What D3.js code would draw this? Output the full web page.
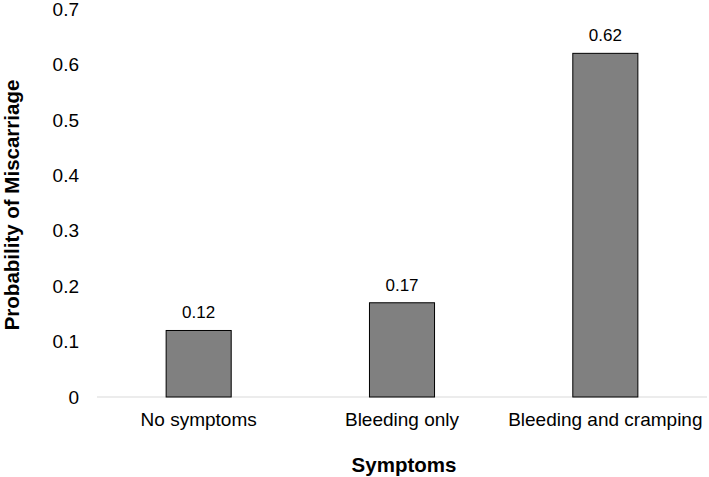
<!DOCTYPE html>
<html>
<head>
<meta charset="utf-8">
<script src="https://cdn.jsdelivr.net/npm/d3@7"></script>
<style>
  body { margin: 0; background: #fff; }
  text { font-family: "Liberation Sans", Arial, sans-serif; fill: #000; }
</style>
</head>
<body>
<div id="chart"></div>
<script>
var categories = ["No symptoms", "Bleeding only", "Bleeding and cramping"];
var values = [0.12, 0.17, 0.62];
var yTicks = [0, 0.1, 0.2, 0.3, 0.4, 0.5, 0.6, 0.7];

var width = 709, height = 477;
var margin = {left: 97, right: 2, top: 9, bottom: 80};
var innerW = width - margin.left - margin.right;
var innerH = height - margin.top - margin.bottom;

var svg = d3.select("#chart").append("svg")
  .attr("width", width)
  .attr("height", height);

var g = svg.append("g")
  .attr("transform", "translate(" + margin.left + "," + margin.top + ")");

var x = d3.scaleBand()
  .domain(categories)
  .range([0, innerW])
  .paddingInner(0.68)
  .paddingOuter(0.34);

var y = d3.scaleLinear()
  .domain([0, 0.7])
  .range([innerH, 0]);

// y tick labels (no axis line)
g.selectAll(".ytick")
  .data(yTicks)
  .enter().append("text")
  .attr("class", "ytick")
  .attr("x", -18)
  .attr("y", function(d) { return y(d); })
  .attr("dy", "0.35em")
  .attr("text-anchor", "end")
  .attr("font-size", "19px")
  .text(function(d) { return d === 0 ? "0" : d3.format(".1f")(d); });

// baseline
g.append("line")
  .attr("x1", 0).attr("x2", innerW)
  .attr("y1", y(0)).attr("y2", y(0))
  .attr("stroke", "#d9d9d9")
  .attr("stroke-width", 1);

// bars
g.selectAll("rect")
  .data(values)
  .enter().append("rect")
  .attr("x", function(d, i) { return x(categories[i]); })
  .attr("y", function(d) { return y(d); })
  .attr("width", x.bandwidth())
  .attr("height", function(d) { return y(0) - y(d); })
  .attr("fill", "#808080")
  .attr("stroke", "#000")
  .attr("stroke-width", 1);

// value labels
g.selectAll(".val")
  .data(values)
  .enter().append("text")
  .attr("class", "val")
  .attr("x", function(d, i) { return x(categories[i]) + x.bandwidth() / 2; })
  .attr("y", function(d) { return y(d) - 12; })
  .attr("text-anchor", "middle")
  .attr("font-size", "17px")
  .text(function(d) { return d; });

// category labels
g.selectAll(".cat")
  .data(categories)
  .enter().append("text")
  .attr("class", "cat")
  .attr("x", function(d) { return x(d) + x.bandwidth() / 2; })
  .attr("y", innerH + 29)
  .attr("text-anchor", "middle")
  .attr("font-size", "19px")
  .text(function(d) { return d; });

// axis titles
svg.append("text")
  .attr("x", margin.left + innerW / 2 + 2)
  .attr("y", 472)
  .attr("text-anchor", "middle")
  .attr("font-size", "20.5px")
  .attr("font-weight", "bold")
  .text("Symptoms");

svg.append("text")
  .attr("transform", "translate(19,205) rotate(-90)")
  .attr("text-anchor", "middle")
  .attr("font-size", "20.5px")
  .attr("font-weight", "bold")
  .text("Probability of Miscarriage");
</script>
</body>
</html>
